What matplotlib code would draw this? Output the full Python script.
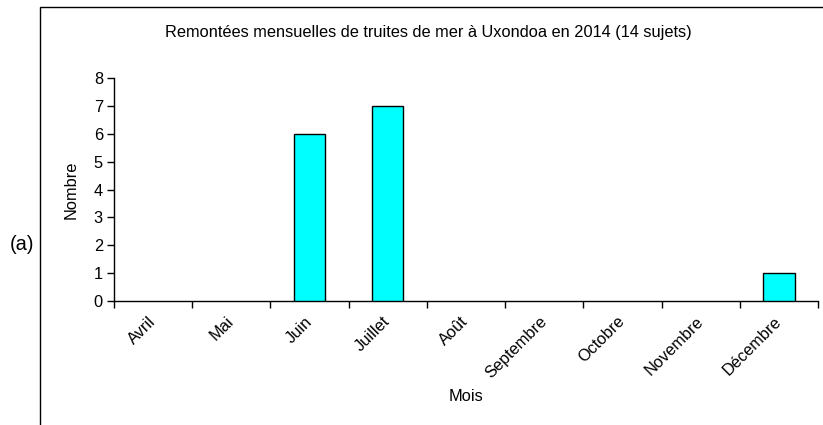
import matplotlib.pyplot as plt
from matplotlib.patches import Rectangle

plt.rcParams['font.family'] = ['Liberation Sans', 'DejaVu Sans']

mois = ['Avril', 'Mai', 'Juin', 'Juillet', 'Août', 'Septembre', 'Octobre', 'Novembre', 'Décembre']
nombres = [0, 0, 6, 7, 0, 0, 0, 0, 1]
y_ticks = [0, 1, 2, 3, 4, 5, 6, 7, 8]

W, H = 823, 425
fs = 11.8
fig = plt.figure(figsize=(W / 100, H / 100), dpi=100)

# axes en pixels : gauche 114, droite 818, haut 78, bas 301
ax = fig.add_axes([114 / W, 1 - 301 / H, (818 - 114) / W, (301 - 78) / H])

x = range(len(mois))
ax.bar(x, nombres, width=0.4, color='#00ffff', edgecolor='black',
       linewidth=[1.0 if n > 0 else 0 for n in nombres], zorder=3)

ax.set_xlim(-0.5, len(mois) - 0.5)
ax.set_ylim(0, 8)
ax.set_yticks(y_ticks)
ax.tick_params(axis='y', direction='out', length=5, width=1, labelsize=fs, pad=3)

# ticks x aux limites des catégories, étiquettes au centre
ax.set_xticks([i - 0.5 for i in range(len(mois) + 1)])
ax.set_xticklabels([])
ax.set_xticks(list(x), minor=True)
ax.set_xticklabels(mois, minor=True, rotation=45, ha='right', va='center',
                   rotation_mode='anchor', fontsize=fs)
ax.tick_params(axis='x', which='major', direction='out', length=5, width=1)
ax.tick_params(axis='x', which='minor', length=0, pad=13)

for s in ['top', 'right']:
    ax.spines[s].set_visible(False)
for s in ['left', 'bottom']:
    ax.spines[s].set_linewidth(1.0)

ax.set_ylabel('Nombre', fontsize=fs, labelpad=10.5)
ax.set_xlabel('Mois', fontsize=fs, labelpad=6)

fig.text(428 / W, 1 - 33 / H, 'Remontées mensuelles de truites de mer à Uxondoa en 2014 (14 sujets)',
         ha='center', va='center', fontsize=fs)
fig.text(22 / W, 1 - 245 / H, '(a)', ha='center', va='center', fontsize=14.5)

# cadre du graphique (bords gauche et haut visibles)
fig.add_artist(Rectangle((40 / W, -0.1), 1.1, 1 - 7 / H + 0.1, transform=fig.transFigure,
                         fill=False, edgecolor='black', linewidth=1.0))

fig.savefig('out.png', dpi=100)
